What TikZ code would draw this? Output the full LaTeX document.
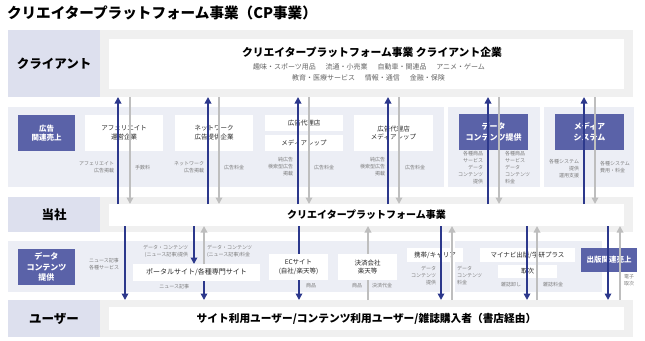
\documentclass[tikz,border=0pt]{standalone}
\usepackage{fontspec}
\setmainfont{Noto Sans CJK JP}
\usetikzlibrary{arrows.meta}
\definecolor{labfill}{RGB}{221,224,238}
\definecolor{grayband}{RGB}{240,240,240}
\definecolor{lavband}{RGB}{236,238,245}
\definecolor{bluebox}{RGB}{90,98,168}
\definecolor{bluearr}{RGB}{44,56,140}
\definecolor{grayarr}{RGB}{190,190,190}
\definecolor{lbltxt}{RGB}{125,125,125}
\definecolor{boxtxt}{RGB}{40,40,40}
\definecolor{subtxt}{RGB}{100,100,100}
\begin{document}
\begin{tikzpicture}[x=1pt,y=-1pt,
  every node/.style={inner sep=0pt,outer sep=0pt},
  rowlab/.style={fill=labfill,anchor=north west,font=\fontsize{12.5}{14}\selectfont\bfseries,text=black},
  grayrow/.style={fill=grayband,anchor=north west},
  lav/.style={fill=lavband,anchor=north west},
  wbox/.style={fill=white,anchor=north west,align=center,font=\fontsize{6.5}{8.8}\selectfont,text=boxtxt},
  bbox/.style={fill=bluebox,anchor=north west,align=center,text=white,font=\fontsize{8}{10.5}\selectfont\bfseries},
  lbl/.style={font=\fontsize{5}{7}\selectfont,text=lbltxt},
  barr/.style={draw=bluearr,line width=1.8pt,-{Triangle[width=6.5pt,length=6.5pt]}},
  garr/.style={draw=grayarr,line width=2.3pt,-{Triangle[width=6.5pt,length=6.5pt]}}
]
\useasboundingbox (0,0) rectangle (645,340);
\fill[white] (0,0) rectangle (645,340);

% title
\node[anchor=west,font=\fontsize{14.6}{16}\selectfont\bfseries] (title) at (7,13) {クリエイタープラットフォーム事業（CP事業）};

% client row
\node[rowlab,minimum width=92pt,minimum height=67pt] (clab) at (8,30) {クライアント};
\node[grayrow,minimum width=533pt,minimum height=67pt] (crow) at (100,30) {};
\node[wbox,minimum width=515pt,minimum height=50pt] (cbox) at (109,39) {};
\node[font=\fontsize{10.8}{12}\selectfont\bfseries] (ctitle) at (372,52) {クリエイタープラットフォーム事業 クライアント企業};
\node[font=\fontsize{7}{8}\selectfont,text=subtxt] (csub1) at (369,67) {趣味・スポーツ用品\hspace{1.4em}流通・小売業\hspace{1.4em}自動車・関連品\hspace{1.4em}アニメ・ゲーム};
\node[font=\fontsize{7}{8}\selectfont,text=subtxt] (csub2) at (368.5,78) {教育・医療サービス\hspace{1.4em}情報・通信\hspace{1.4em}金融・保険};

% upper middle band
\node[lav,minimum width=436pt,minimum height=80pt] (ub1) at (8,107) {};
\node[lav,minimum width=92pt,minimum height=80pt] (ub2) at (448,107) {};
\node[lav,minimum width=90pt,minimum height=80pt] (ub3) at (544,107) {};
\node[bbox,minimum width=57pt,minimum height=36pt,font=\fontsize{7.5}{9.5}\selectfont\bfseries] (adsales) at (18,115) {広告\\関連売上};
\node[wbox,minimum width=78pt,minimum height=36pt] (aff) at (85,115) {アフェリエイト\\運営企業};
\node[wbox,minimum width=78pt,minimum height=36pt] (nw) at (175,115) {ネットワーク\\広告提供企業};
\node[wbox,minimum width=78pt,minimum height=16pt] (agency) at (265,115) {広告代理店};
\node[wbox,minimum width=78pt,minimum height=16pt] (rep) at (265,135) {メディアレップ};
\node[wbox,minimum width=79pt,minimum height=36pt] (agrep) at (354,115) {広告代理店\\メディアレップ};
\node[bbox,minimum width=69pt,minimum height=36pt] (dcu) at (459,114) {データ\\コンテンツ提供};
\node[bbox,minimum width=69pt,minimum height=36pt] (msys) at (555,114) {メディア\\システム};

% company row
\node[rowlab,minimum width=92pt,minimum height=35pt] (tlab) at (8,197) {当社};
\node[grayrow,minimum width=533pt,minimum height=35pt] (trow) at (100,197) {};
\node[wbox,minimum width=515pt,minimum height=22pt,font=\fontsize{10}{12}\selectfont\bfseries,text=black] (tbox) at (109,204) {クリエイタープラットフォーム事業};

% lower middle band
\node[lav,minimum width=442pt,minimum height=51pt] (lband1) at (8,241) {};
\node[lav,minimum width=147pt,minimum height=51pt] (lband2) at (455,241) {};
\node[bbox,minimum width=57pt,minimum height=36pt] (dcl) at (18,249) {データ\\コンテンツ\\提供};
\node[wbox,minimum width=127pt,minimum height=17pt,font=\fontsize{7}{9}\selectfont] (portal) at (133,264) {ポータルサイト/各種専門サイト};
\node[wbox,minimum width=56pt,minimum height=14pt] (mob) at (407,248) {携帯/キャリア};
\node[wbox,minimum width=95pt,minimum height=14pt] (pub) at (480,248) {マイナビ出版/学研プラス};
\node[wbox,minimum width=59pt,minimum height=13pt] (tori) at (498,265) {取次};
\node[bbox,minimum width=56pt,minimum height=24pt,font=\fontsize{7.5}{9}\selectfont\bfseries] (pubsales) at (581,248) {出版関連売上};

% user row
\node[rowlab,minimum width=92pt,minimum height=37pt] (ulab) at (8,300) {ユーザー};
\node[grayrow,minimum width=533pt,minimum height=37pt] (urow) at (100,300) {};
\node[wbox,minimum width=515pt,minimum height=23pt,font=\fontsize{10.7}{12}\selectfont\bfseries,text=black] (ubox) at (109,307) {サイト利用ユーザー/コンテンツ利用ユーザー/雑誌購入者（書店経由）};

% arrow x positions
\coordinate (ua1) at (118,0); \coordinate (ug1) at (130,0);
\coordinate (ua2) at (208,0); \coordinate (ug2) at (219,0);
\coordinate (ua3) at (298,0); \coordinate (ug3) at (309,0);
\coordinate (ua4) at (388,0); \coordinate (ug4) at (399,0);
\coordinate (ua5) at (488,0); \coordinate (ug5) at (499,0);
\coordinate (ua6) at (584,0); \coordinate (ug6) at (595,0);
\coordinate (la1) at (125,0);
\coordinate (la2) at (194,0); \coordinate (lg2) at (204,0);
\coordinate (la3) at (299,0); \coordinate (lg3) at (368,0);
\coordinate (la4) at (441,0); \coordinate (lg4) at (452,0);
\coordinate (la5) at (527,0); \coordinate (lg5) at (537,0);
\coordinate (la6) at (608,0); \coordinate (lg6) at (620,0);

% upper arrows
\foreach \i in {1,...,6}{
  \draw[barr] (ua\i |- tbox.north) -- (ua\i |- crow.south);
  \draw[garr] (ug\i |- crow.south) -- (ug\i |- tbox.north);
}

% lower arrows
\draw[barr] (la1 |- tbox.south) -- (la1 |- urow.north);
\draw[barr] (la2 |- tbox.south) -- (la2 |- portal.north);
\draw[garr] (lg2 |- portal.north) -- (lg2 |- tbox.south);
\draw[barr] (lg2 |- portal.south) -- (lg2 |- urow.north);
\draw[barr] (la3 |- tbox.south) -- (la3 |- urow.north);
\draw[garr] (lg3 |- urow.north) -- (lg3 |- tbox.south);
\foreach \i in {4,5,6}{
  \draw[barr] (la\i |- tbox.south) -- (la\i |- urow.north);
  \draw[garr] (lg\i |- urow.north) -- (lg\i |- tbox.south);
}

% boxes drawn over arrows
\node[wbox,minimum width=59pt,minimum height=26pt] (ec) at (269,254) {ECサイト\\(自社/楽天等)};
\node[wbox,minimum width=59pt,minimum height=26pt] (pay) at (338,254) {決済会社\\楽天等};

% upper labels
\node[lbl,anchor=east,align=right] (l1) at (114,167) {アフェリエイト\\広告掲載};
\node[lbl,anchor=west] (l2) at (135,168) {手数料};
\node[lbl,anchor=east,align=right] (l3) at (204,167) {ネットワーク\\広告掲載};
\node[lbl,anchor=west] (l4) at (224,168) {広告料金};
\node[lbl,anchor=east,align=right] (l5) at (293,167) {純広告\\検索型広告\\掲載};
\node[lbl,anchor=west] (l6) at (314,168) {広告料金};
\node[lbl,anchor=east,align=right] (l7) at (385,167) {純広告\\検索型広告\\掲載};
\node[lbl,anchor=west] (l8) at (405,168) {広告料金};
\node[lbl,anchor=east,align=right] (l9) at (483,168) {各種商品\\サービス\\データ\\コンテンツ\\提供};
\node[lbl,anchor=west,align=left] (l10) at (505,168) {各種商品\\サービス\\データ\\コンテンツ\\料金};
\node[lbl,anchor=east,align=right] (l11) at (579,168.5) {各種システム\\提供\\運用支援};
\node[lbl,anchor=west,align=left] (l12) at (600,167.5) {各種システム\\費用・料金};

% lower labels
\node[lbl,anchor=west,align=left] (l13) at (89,264.5) {ニュース記事\\各種サービス};
\node[lbl,anchor=east,align=right] (l14) at (188,251) {データ・コンテンツ\\(ニュース記事)提供};
\node[lbl,anchor=west,align=left] (l15) at (207,251) {データ・コンテンツ\\(ニュース記事)料金};
\node[lbl,anchor=east] (l16) at (189,287) {ニュース記事};
\node[lbl,anchor=west] (l17) at (306,286) {商品};
\node[lbl,anchor=east] (l18) at (362,286) {商品};
\node[lbl,anchor=west] (l19) at (372,286) {決済代金};
\node[lbl,anchor=east,align=right] (l20) at (436,275.5) {データ\\コンテンツ\\提供};
\node[lbl,anchor=west,align=left] (l21) at (457,275.5) {データ\\コンテンツ\\料金};
\node[lbl,anchor=east] (l22) at (521,285) {雑誌卸し};
\node[lbl,anchor=west] (l23) at (543,285) {雑誌料金};
\node[lbl,anchor=west,align=left] (l24) at (624,280.5) {電子\\取次};
\end{tikzpicture}
\end{document}
